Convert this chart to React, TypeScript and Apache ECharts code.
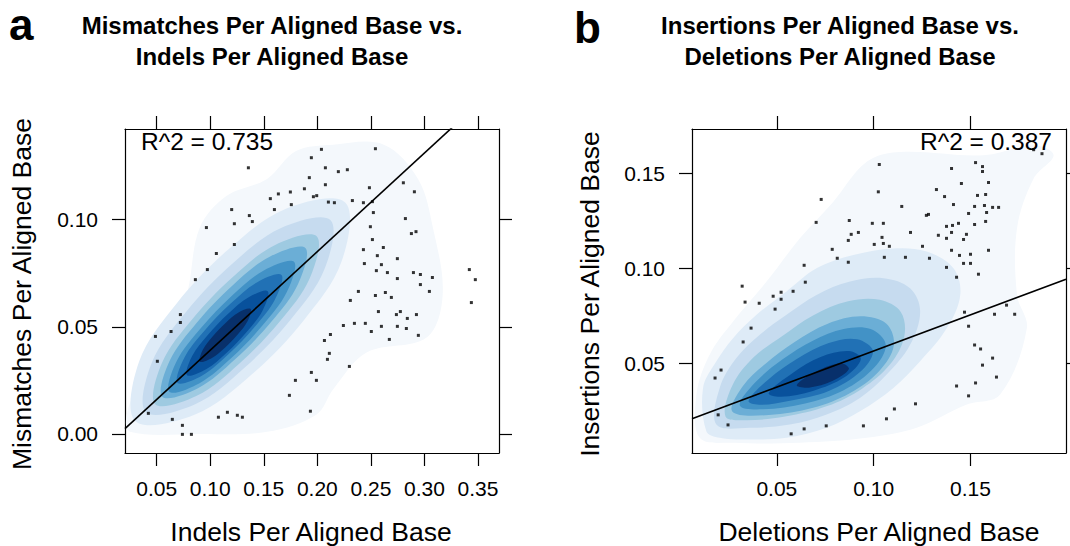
import React, { useEffect, useRef } from "react";
import * as echarts from "echarts";

const FONT = '"Liberation Sans", Arial, Helvetica, sans-serif';
// smoothScatter colour ramp (white -> blues9), one colour per density level 1..9
const densityColors = ["#F4F8FC", "#DEEBF7", "#C6DBEF", "#9ECAE1", "#6BAED6", "#4292C6", "#2171B5", "#08519C", "#08306B"];

// ---------------- Panel a : Mismatches vs Indels ----------------
const xTicksA = [0.05, 0.1, 0.15, 0.2, 0.25, 0.3, 0.35];
const yTicksA = [0.0, 0.05, 0.1];
const xRangeA = [0.0204, 0.3696];
const yRangeA = [-0.0089, 0.1423];
const fitA = { intercept: -0.0069, slope: 0.46, r2: "0.735" };
const pointsA: [number, number][] = [
  [0.2038, 0.1328], [0.2542, 0.1331], [0.1944, 0.1289], [0.1356, 0.1242], [0.2075, 0.1242], [0.2196, 0.1224],
  [0.228, 0.1233], [0.1925, 0.1196], [0.2075, 0.1163], [0.1879, 0.1144], [0.2486, 0.1149], [0.2803, 0.1172],
  [0.2906, 0.113], [0.1748, 0.1129], [0.1636, 0.112], [0.1561, 0.1098], [0.1963, 0.1107], [0.1994, 0.1112],
  [0.2103, 0.1082], [0.2159, 0.1079], [0.2327, 0.1089], [0.243, 0.1079], [0.2514, 0.1084], [0.1757, 0.107],
  [0.1599, 0.1047], [0.12, 0.1047], [0.2523, 0.1033], [0.1365, 0.1019], [0.1393, 0.0991], [0.1225, 0.0981],
  [0.2822, 0.1005], [0.0964, 0.0963], [0.2495, 0.0967], [0.2921, 0.0944], [0.2878, 0.0935], [0.2514, 0.0907],
  [0.1225, 0.0884], [0.243, 0.086], [0.2616, 0.087], [0.1057, 0.0842], [0.256, 0.0832], [0.2747, 0.0818],
  [0.2439, 0.0795], [0.2598, 0.079], [0.0973, 0.0767], [0.2551, 0.0762], [0.2654, 0.0753], [0.2897, 0.0753],
  [0.2962, 0.0744], [0.3419, 0.0767], [0.0861, 0.072], [0.2747, 0.0725], [0.3074, 0.073], [0.3475, 0.072],
  [0.2962, 0.0697], [0.2383, 0.0665], [0.2635, 0.066], [0.2542, 0.0646], [0.2691, 0.0637], [0.3046, 0.0665],
  [0.2308, 0.0623], [0.3438, 0.0613], [0.257, 0.0571], [0.2775, 0.0571], [0.2738, 0.0557], [0.2925, 0.0557],
  [0.284, 0.0539], [0.0721, 0.0557], [0.0721, 0.052], [0.2243, 0.0506], [0.2346, 0.0516], [0.2448, 0.0516],
  [0.2598, 0.0502], [0.2747, 0.0502], [0.2831, 0.0492], [0.2504, 0.0478], [0.0634, 0.0478], [0.2943, 0.046],
  [0.0488, 0.0455], [0.2122, 0.0464], [0.2066, 0.0436], [0.2672, 0.0441], [0.2112, 0.0376], [0.2094, 0.0348],
  [0.0506, 0.0339], [0.2299, 0.0315], [0.1944, 0.0287], [0.1795, 0.025], [0.1991, 0.025], [0.1739, 0.018],
  [0.1935, 0.0106], [0.0422, 0.0096], [0.116, 0.0101], [0.1076, 0.0078], [0.1253, 0.0087], [0.13, 0.0078],
  [0.0646, 0.0068], [0.074, 0.004], [0.074, -0.0002], [0.0824, -0.0002],
];
// density contour bands (level 1 = faintest ... level 9 = densest)
const contourA1: [number, number][] = [
  [0.025, 0.001], [0.022, 0.009], [0.034, 0.024], [0.059, 0.043], [0.078, 0.065], [0.09, 0.096], [0.115, 0.111],
  [0.153, 0.119], [0.18, 0.132], [0.215, 0.135], [0.262, 0.135], [0.294, 0.119], [0.308, 0.096], [0.317, 0.065],
  [0.302, 0.045], [0.246, 0.038], [0.215, 0.021], [0.199, 0.009], [0.153, 0.001], [0.09, 0.0],
];
const contourA2: [number, number][] = [
  [0.226, 0.108], [0.2225, 0.0803], [0.1874, 0.0531], [0.1384, 0.0276], [0.0853, 0.0089], [0.03, 0.006],
  [0.0335, 0.0337], [0.0686, 0.0609], [0.1176, 0.0864], [0.1707, 0.1051],
];
const contourA3: [number, number][] = [
  [0.2122, 0.0998], [0.2065, 0.0767], [0.1748, 0.0532], [0.1317, 0.0308], [0.0859, 0.0139], [0.0398, 0.0102],
  [0.0455, 0.0333], [0.0772, 0.0568], [0.1203, 0.0793], [0.1661, 0.0961],
];
const contourA4: [number, number][] = [
  [0.1994, 0.0922], [0.1929, 0.0727], [0.1647, 0.0524], [0.127, 0.0328], [0.0874, 0.0178], [0.0486, 0.0138],
  [0.0551, 0.0333], [0.0834, 0.0536], [0.1211, 0.0732], [0.1606, 0.0882],
];
const contourA5: [number, number][] = [
  [0.1888, 0.0868], [0.182, 0.07], [0.1566, 0.0521], [0.1232, 0.0348], [0.0885, 0.0213], [0.0552, 0.0173],
  [0.062, 0.034], [0.0874, 0.0519], [0.1208, 0.0693], [0.1555, 0.0827],
];
const contourA6: [number, number][] = [
  [0.1782, 0.0803], [0.1714, 0.0661], [0.1489, 0.0507], [0.1199, 0.0355], [0.09, 0.0237], [0.0618, 0.0197],
  [0.0686, 0.0339], [0.0911, 0.0493], [0.1202, 0.0645], [0.15, 0.0763],
];
const contourA7: [number, number][] = [
  [0.1665, 0.0742], [0.1603, 0.0626], [0.1414, 0.0499], [0.1172, 0.0373], [0.0925, 0.0273], [0.0695, 0.0238],
  [0.0757, 0.0354], [0.0946, 0.0481], [0.1188, 0.0607], [0.1435, 0.0707],
];
const contourA8: [number, number][] = [
  [0.1537, 0.0666], [0.1489, 0.0576], [0.1342, 0.0477], [0.1153, 0.0379], [0.0961, 0.0302], [0.0783, 0.0274],
  [0.0831, 0.0364], [0.0979, 0.0463], [0.1167, 0.0561], [0.1359, 0.0638],
];
const contourA9: [number, number][] = [
  [0.1377, 0.0583], [0.1348, 0.0526], [0.1256, 0.0464], [0.1137, 0.0402], [0.1016, 0.0354], [0.0903, 0.0337],
  [0.0932, 0.0394], [0.1024, 0.0456], [0.1143, 0.0518], [0.1264, 0.0567],
];
const contoursA = [contourA1, contourA2, contourA3, contourA4, contourA5, contourA6, contourA7, contourA8, contourA9];

// ---------------- Panel b : Insertions vs Deletions ----------------
const xTicksB = [0.05, 0.1, 0.15];
const yTicksB = [0.05, 0.1, 0.15];
const xRangeB = [0.0062, 0.1993];
const yRangeB = [0.0026, 0.1733];
const fitB = { intercept: 0.0183, slope: 0.3806, r2: "0.387" };
const pointsB: [number, number][] = [
  [0.1029, 0.1546], [0.1526, 0.1556], [0.1562, 0.1535], [0.1562, 0.1509], [0.1402, 0.1525], [0.1593, 0.1451],
  [0.1453, 0.1446], [0.1024, 0.1402], [0.1324, 0.1414], [0.1366, 0.1377], [0.1536, 0.1383], [0.1578, 0.1388],
  [0.0729, 0.1362], [0.1145, 0.1325], [0.1412, 0.1335], [0.1521, 0.1325], [0.1572, 0.133], [0.1614, 0.132],
  [0.1645, 0.132], [0.1583, 0.1293], [0.149, 0.1288], [0.1272, 0.1278], [0.1283, 0.1283], [0.0703, 0.1241],
  [0.0874, 0.1251], [0.0993, 0.1236], [0.105, 0.1236], [0.1521, 0.123], [0.1578, 0.1246], [0.1376, 0.122],
  [0.1407, 0.1225], [0.1438, 0.1236], [0.0921, 0.1188], [0.0884, 0.1178], [0.119, 0.1188], [0.1334, 0.1173],
  [0.1402, 0.1188], [0.1479, 0.1178], [0.1043, 0.1162], [0.0869, 0.1146], [0.1376, 0.1157], [0.1464, 0.1151],
  [0.1003, 0.1125], [0.105, 0.113], [0.1081, 0.1115], [0.1252, 0.1115], [0.0786, 0.1099], [0.1402, 0.1094],
  [0.1593, 0.1094], [0.0812, 0.1052], [0.1055, 0.1057], [0.1164, 0.1057], [0.1288, 0.1052], [0.1443, 0.1067],
  [0.15, 0.1073], [0.0869, 0.1031], [0.1464, 0.1025], [0.15, 0.1025], [0.0641, 0.1015], [0.1376, 0.1004],
  [0.1541, 0.0968], [0.1428, 0.0952], [0.0647, 0.0926], [0.0321, 0.0905], [0.0522, 0.0873], [0.0481, 0.0852],
  [0.0522, 0.0836], [0.0584, 0.0878], [0.0336, 0.0821], [0.0409, 0.0815], [0.0491, 0.0784], [0.0367, 0.0684],
  [0.1469, 0.0768], [0.1686, 0.0805], [0.1624, 0.0757], [0.1728, 0.0757], [0.149, 0.0694], [0.0326, 0.0611],
  [0.1521, 0.0595], [0.1552, 0.0574], [0.1614, 0.0526], [0.1562, 0.0489], [0.0181, 0.0421], [0.0212, 0.0463],
  [0.1634, 0.0426], [0.1526, 0.0395], [0.1428, 0.0379], [0.149, 0.0327], [0.0197, 0.0227], [0.0248, 0.0174],
  [0.1216, 0.0285], [0.1107, 0.0258], [0.1066, 0.0206], [0.0641, 0.0153], [0.0755, 0.0169], [0.0947, 0.0169],
  [0.0574, 0.0127], [0.1826, 0.1624], [0.1869, 0.1603],
];
const contourB1: [number, number][] = [
  [0.0102, 0.0106], [0.0085, 0.0334], [0.0153, 0.0544], [0.0274, 0.0719], [0.0447, 0.0929], [0.0619, 0.1157],
  [0.0791, 0.1349], [0.0964, 0.156], [0.1136, 0.1612], [0.1567, 0.1595], [0.1826, 0.1647], [0.1929, 0.1595],
  [0.1826, 0.1472], [0.174, 0.1209], [0.174, 0.0859], [0.1791, 0.0684], [0.1653, 0.0334], [0.1481, 0.0281],
  [0.1222, 0.0159], [0.0964, 0.0106], [0.0619, 0.008], [0.0274, 0.008],
];
const contourB2: [number, number][] = [
  [0.0136, 0.0141], [0.0119, 0.0369], [0.0188, 0.0509], [0.0274, 0.0631], [0.0395, 0.0754], [0.055, 0.0877],
  [0.0705, 0.0999], [0.0895, 0.1069], [0.1102, 0.1104], [0.1274, 0.1087], [0.1412, 0.0999], [0.1447, 0.0859],
  [0.1378, 0.0684], [0.124, 0.0509], [0.1102, 0.0369], [0.0929, 0.0246], [0.0757, 0.0159], [0.055, 0.0106],
  [0.0343, 0.0097], [0.0205, 0.0106],
];
const contourB3: [number, number][] = [
  [0.0188, 0.0176], [0.0205, 0.0369], [0.0291, 0.0526], [0.0412, 0.0649], [0.055, 0.0754], [0.0705, 0.0859],
  [0.0878, 0.0929], [0.105, 0.0947], [0.1188, 0.0894], [0.124, 0.0772], [0.1188, 0.0596], [0.1067, 0.0439],
  [0.0929, 0.0316], [0.0757, 0.0229], [0.0567, 0.0176], [0.036, 0.0159],
];
const contourB4: [number, number][] = [
  [0.0235, 0.0218], [0.0271, 0.0383], [0.038, 0.053], [0.0525, 0.064], [0.0687, 0.0751], [0.0868, 0.0825],
  [0.1031, 0.0833], [0.114, 0.0769], [0.1158, 0.064], [0.1085, 0.0493], [0.094, 0.0365], [0.076, 0.0273],
  [0.0543, 0.0218], [0.0343, 0.0199],
];
const contourB5: [number, number][] = [
  [0.027, 0.0245], [0.0326, 0.038], [0.044, 0.0495], [0.0592, 0.0611], [0.0763, 0.0707], [0.0933, 0.0746],
  [0.1066, 0.0707], [0.1104, 0.0592], [0.1028, 0.0457], [0.0876, 0.0341], [0.0687, 0.0264], [0.0459, 0.0226],
];
const contourB6: [number, number][] = [
  [0.0309, 0.0276], [0.0388, 0.0397], [0.0528, 0.0518], [0.0686, 0.0618], [0.0845, 0.0679], [0.0984, 0.0679],
  [0.1062, 0.0598], [0.1004, 0.0478], [0.0845, 0.0357], [0.0646, 0.0287], [0.0429, 0.0256],
];
const contourB7: [number, number][] = [
  [0.0354, 0.03], [0.0458, 0.0415], [0.0603, 0.0521], [0.0768, 0.0605], [0.0914, 0.0625], [0.0996, 0.0563],
  [0.0934, 0.0457], [0.0768, 0.0353], [0.0561, 0.03], [0.0417, 0.028],
];
const contourB8: [number, number][] = [
  [0.0458, 0.0342], [0.0582, 0.0448], [0.0726, 0.0532], [0.0872, 0.0563], [0.0934, 0.0521], [0.0851, 0.0426],
  [0.0686, 0.0353], [0.052, 0.0322],
];
const contourB9: [number, number][] = [
  [0.0603, 0.0384], [0.0706, 0.0457], [0.0831, 0.0499], [0.0872, 0.0468], [0.0789, 0.0406], [0.0665, 0.037],
];
const contoursB = [contourB1, contourB2, contourB3, contourB4, contourB5, contourB6, contourB7, contourB8, contourB9];

// ---------------- helpers ----------------
const AXIS_COLOR = "#000";

function makeAxis(kind: "x" | "y", gridIndex: number, range: number[], ticks: number[], position: string, showLabel: boolean) {
  return {
    type: "value",
    gridIndex,
    min: range[0],
    max: range[1],
    position,
    splitLine: { show: false },
    axisLine: { show: true, onZero: false, lineStyle: { color: AXIS_COLOR, width: 1.2 } },
    axisTick: { show: true, inside: false, length: 13, customValues: ticks, lineStyle: { color: AXIS_COLOR, width: 1.2 } },
    axisLabel: {
      show: showLabel,
      customValues: ticks,
      formatter: (v: number) => v.toFixed(2),
      fontSize: 21,
      fontFamily: FONT,
      color: "#000",
      margin: kind === "x" ? 25 : 27,
    },
  };
}

function densitySeries(contours: [number, number][][], axisIndex: number) {
  return {
    type: "custom",
    xAxisIndex: axisIndex,
    yAxisIndex: axisIndex,
    clip: true,
    silent: true,
    z: 1,
    data: contours.map((_, i) => [i + 1]),
    renderItem: (params: any, api: any) => {
      const poly = contours[params.dataIndex];
      return {
        type: "polygon",
        shape: { points: poly.map((p) => api.coord(p)), smooth: 0.35 },
        style: { fill: densityColors[params.dataIndex], stroke: null },
      };
    },
  };
}

function pointSeries(points: [number, number][], axisIndex: number) {
  return {
    type: "scatter",
    xAxisIndex: axisIndex,
    yAxisIndex: axisIndex,
    symbol: "rect",
    symbolSize: 3,
    silent: true,
    z: 3,
    itemStyle: { color: "#000" },
    data: points,
  };
}

function fitSeries(fit: { intercept: number; slope: number }, xRange: number[], axisIndex: number) {
  return {
    type: "line",
    xAxisIndex: axisIndex,
    yAxisIndex: axisIndex,
    symbol: "none",
    silent: true,
    clip: true,
    z: 4,
    lineStyle: { color: "#000", width: 1.6 },
    data: xRange.map((x) => [x, fit.intercept + fit.slope * x]),
  };
}

function txt(text: string, x: number, y: number, size: number, opts: any = {}) {
  return {
    type: "text",
    x,
    y,
    rotation: opts.rotation || 0,
    z: 10,
    style: {
      text,
      fill: "#000",
      font: `${opts.bold ? "bold " : ""}${size}px ${FONT}`,
      textAlign: opts.align || "center",
      textVerticalAlign: "middle",
      verticalAlign: "middle",
    },
  };
}

export default function App() {
  const ref = useRef<HTMLDivElement>(null);
  useEffect(() => {
    if (!ref.current) return;
    const chart = echarts.init(ref.current, null, { renderer: "svg" });
    const option: any = {
      animation: false,
      backgroundColor: "#fff",
      grid: [
        { left: 125, top: 129, width: 374, height: 324 },
        { left: 692, top: 129, width: 374, height: 324 },
      ],
      xAxis: [
        makeAxis("x", 0, xRangeA, xTicksA, "bottom", true),
        makeAxis("x", 0, xRangeA, xTicksA, "top", false),
        makeAxis("x", 1, xRangeB, xTicksB, "bottom", true),
        makeAxis("x", 1, xRangeB, xTicksB, "top", false),
      ],
      yAxis: [
        makeAxis("y", 0, yRangeA, yTicksA, "left", true),
        makeAxis("y", 0, yRangeA, yTicksA, "right", false),
        makeAxis("y", 1, yRangeB, yTicksB, "left", true),
        makeAxis("y", 1, yRangeB, yTicksB, "right", false),
      ],
      series: [
        densitySeries(contoursA, 0),
        pointSeries(pointsA, 0),
        fitSeries(fitA, xRangeA, 0),
        densitySeries(contoursB, 2),
        pointSeries(pointsB, 2),
        fitSeries(fitB, xRangeB, 2),
      ],
      graphic: [
        txt("a", 9, 24.6, 44, { bold: true, align: "left" }),
        txt("b", 574, 27.6, 44, { bold: true, align: "left" }),
        txt("Mismatches Per Aligned Base vs.", 272, 25.1, 24, { bold: true }),
        txt("Indels Per Aligned Base", 272, 56.1, 24, { bold: true }),
        txt("Insertions Per Aligned Base vs.", 840, 25.1, 24, { bold: true }),
        txt("Deletions Per Aligned Base", 840, 56.1, 24, { bold: true }),
        txt("R^2 = " + fitA.r2, 141, 141.4, 24.5, { align: "left" }),
        txt("R^2 = " + fitB.r2, 1052, 141, 24.5, { align: "right" }),
        txt("Indels Per Aligned Base", 311, 531.7, 26.5),
        txt("Deletions Per Aligned Base", 879, 531.7, 26.5),
        txt("Mismatches Per Aligned Base", 22.4, 294, 26.5, { rotation: Math.PI / 2 }),
        txt("Insertions Per Aligned Base", 589.5, 294, 26.5, { rotation: Math.PI / 2 }),
      ],
    };
    chart.setOption(option);
    return () => chart.dispose();
  }, []);
  return (
    <div
      ref={ref}
      style={{ position: "fixed", left: 0, top: 0, width: 1070, height: 546, background: "#fff" }}
    />
  );
}
